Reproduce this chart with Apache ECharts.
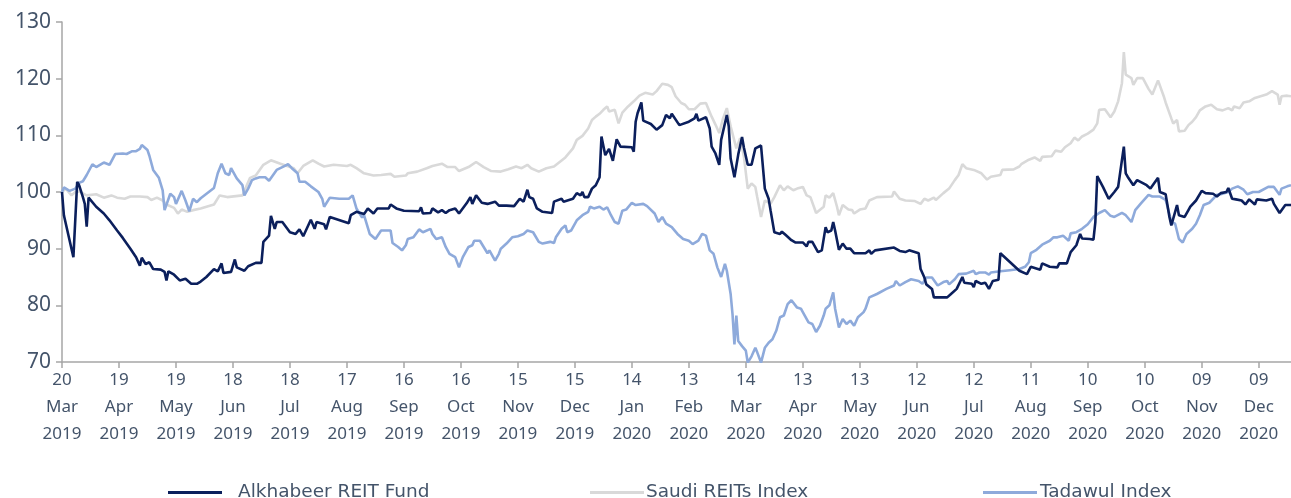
<!DOCTYPE html>
<html>
<head>
<meta charset="utf-8">
<script src="https://cdn.jsdelivr.net/npm/echarts@6/dist/echarts.min.js"></script>
<style>
  html, body { margin: 0; padding: 0; background: #fff; }
  #main { width: 1291px; height: 498px; }
</style>
</head>
<body>
<div id="main"></div>
<script>
// days counted from 20 Mar 2019
var tickLabels = ['20\nMar\n2019', '19\nApr\n2019', '19\nMay\n2019', '18\nJun\n2019', '18\nJul\n2019',
    '17\nAug\n2019', '16\nSep\n2019', '16\nOct\n2019', '15\nNov\n2019', '15\nDec\n2019',
    '14\nJan\n2020', '13\nFeb\n2020', '14\nMar\n2020', '13\nApr\n2020', '13\nMay\n2020',
    '12\nJun\n2020', '12\nJul\n2020', '11\nAug\n2020', '10\nSep\n2020', '10\nOct\n2020',
    '09\nNov\n2020', '09\nDec\n2020'];

var seriesNames = ['Alkhabeer REIT Fund', 'Saudi REITs Index', 'Tadawul Index'];

var fundDays = [0, 1, 6, 8, 9, 11, 12, 13, 14, 18, 22, 25, 29, 32, 36, 39, 41, 42, 44, 46, 48, 52, 54, 55, 56, 59, 62, 65, 68, 71,
    73, 76, 80, 82, 84, 85, 89, 91, 92, 96, 98, 102, 105, 106, 109, 110, 112, 113, 116, 120, 123, 125, 127, 131, 133, 134, 138, 139, 141,
    151, 152, 153, 155, 159, 161, 164, 166, 172, 173, 176, 180, 188, 189, 190, 194, 195, 198, 200, 202, 204, 207, 209, 213, 215, 216, 218,
    221, 224, 228, 230, 234, 238, 241, 243, 245, 246, 248, 250, 253, 258, 259, 263, 264, 269, 271, 273, 274, 275, 277, 279, 281, 283, 284,
    286, 288, 290, 292, 294, 300, 301, 302, 303, 305, 306, 310, 313, 316, 318, 320, 321, 325, 330, 333, 334, 335, 339, 341, 342, 344, 346,
    347, 350, 351, 352, 354, 356, 358, 359, 361, 363, 365, 368, 370, 372, 373, 375, 378, 379, 381, 384, 386, 390, 392, 393, 395, 398, 400,
    402, 403, 405, 406, 407, 409, 411, 413, 415, 416, 417, 423, 425, 426, 428, 438, 441, 444, 446, 451, 452, 454, 455, 458, 459, 466, 468,
    471, 474, 475, 479, 480, 481, 484, 486, 488, 490, 493, 494, 504, 508, 510, 515, 516, 520, 524, 525, 529, 531, 534, 536, 537, 541, 543,
    544, 545, 548, 551, 554, 556, 557, 559, 560, 561, 564, 566, 571, 573, 577, 578, 581, 583, 584, 587, 588, 591, 593, 594, 595, 597, 600,
    602, 606, 608, 610, 613, 614, 616, 618, 621, 623, 625, 628, 629, 634, 637, 638, 641, 644, 647];
var fundValues = [100, 95.9, 88.5, 101.8, 101.2, 99.1, 97.9, 93.9, 99.0, 97.4, 96.2, 95.0, 93.2, 91.9, 90.0, 88.5, 87.0, 88.4, 87.3, 87.6,
    86.4, 86.3, 85.9, 84.4, 86.0, 85.4, 84.4, 84.7, 83.8, 83.8,
    84.2, 85.0, 86.4, 86.0, 87.4, 85.7, 85.9, 88.1, 86.7, 86.1, 86.9, 87.5, 87.5, 91.2, 92.3, 95.8, 93.5, 94.7, 94.7, 92.9, 92.6, 93.4,
    92.2, 95.1, 93.5, 94.7, 94.3, 93.4, 95.6,
    94.5, 95.9, 95.6, 96.5, 96.1, 97.1, 96.2, 97.1, 97.1, 97.8, 97.1, 96.7, 96.6, 97.3, 96.2, 96.3, 97.1, 96.4, 96.8, 96.3, 96.8, 97.1,
    96.2, 98.0, 99.1, 97.9, 99.4,
    98.1, 97.9, 98.3, 97.6, 97.6, 97.5, 98.8, 98.3, 100.4, 99.1, 98.8, 97.1, 96.5, 96.3, 98.3, 98.8, 98.3, 98.8, 99.8, 99.4, 100.0, 99.1,
    99.1, 100.6, 101.2, 102.6, 109.8,
    106.5, 107.6, 105.5, 109.3, 108.0, 107.9, 107.1, 112.4, 113.9, 115.8, 112.6, 112.0, 111.0, 111.8, 113.6, 113.0, 113.8, 111.8, 112.4,
    113.0, 113.8, 112.6, 113.2, 111.2, 108.0, 106.8, 104.8,
    109.2, 113.6, 111.6, 105.9, 102.6, 106.6, 109.7, 107.8, 104.8, 104.8, 107.7, 108.2, 100.6, 98.8, 96.8, 92.9, 92.6, 93.0, 92.4, 91.5,
    91.1, 91.1, 90.4, 91.2, 91.2, 89.4, 89.7,
    93.8, 92.9, 93.2, 94.7, 93.2, 89.8, 90.9, 90.0, 90.0, 90.2, 89.2, 89.2, 89.7, 89.1, 89.7, 90.2, 89.6, 89.4, 89.7, 89.2, 86.4, 84.9,
    83.7, 82.9, 81.4, 81.4, 82.0,
    82.9, 85.0, 84.0, 83.8, 83.2, 84.3, 83.8, 84.0, 82.9, 84.3, 84.5, 89.2, 86.1, 85.5, 86.8, 86.3, 87.4, 86.8, 86.7, 87.4, 87.4, 89.4,
    90.6, 92.6, 91.8, 91.7, 91.6,
    94.7, 102.8, 100.9, 98.8, 100.0, 100.9, 100.6, 108.0, 103.3, 102.7, 101.2, 102.1, 101.2, 100.6, 102.5, 100.0, 99.6, 95.6, 94.1, 97.7,
    95.9, 95.6, 96.8, 97.4, 97.7, 98.5, 100.2,
    99.8, 99.7, 99.2, 99.8, 100.0, 100.7, 98.8, 98.7, 98.5, 97.8, 98.7, 97.8, 98.7, 98.5, 98.8, 97.9, 96.3, 97.7, 97.7];

var reitDays = [0, 2, 5, 7, 9, 13, 18, 22, 26, 29, 33, 36, 41, 45, 47, 50, 53, 55, 59, 61, 63, 66, 69, 73, 80, 83, 87, 95, 99, 102,
    106, 110, 115, 122, 124, 127, 132, 135, 138, 143, 150, 152, 155, 159, 164, 168, 173, 175, 181, 182, 187, 192, 195, 200, 203, 207,
    209, 214, 218, 222, 226, 231, 235, 239, 242, 245, 247, 251, 255, 259, 262, 265, 266, 269, 271, 272, 274, 277, 279, 281, 283, 285,
    287, 288, 291, 293, 295, 298, 301, 304, 307, 311, 313, 316, 319, 321, 323, 326, 328, 330, 333, 336, 339, 342, 344, 346, 348, 350,
    352, 355, 357, 359, 361, 363, 365, 366, 368, 370, 373, 375, 378, 380, 382, 385, 387, 390, 392, 394, 397, 401, 402, 404, 406, 408,
    409, 411, 414, 416, 417, 420, 423, 425, 429, 437, 438, 441, 444, 449, 452, 454, 456, 459, 460, 464, 467, 470, 472, 474, 476, 480,
    484, 487, 489, 494, 495, 501, 504, 505, 509, 512, 515, 516, 521, 523, 526, 528, 531, 533, 535, 537, 540, 543, 545, 546, 549, 552,
    554, 556, 558, 559, 560, 563, 564, 566, 569, 572, 574, 577, 580, 581, 584, 585, 587, 588, 591, 593, 595, 597, 599, 602, 605, 608,
    611, 614, 616, 617, 620, 622, 625, 628, 631, 634, 637, 640, 641, 642, 645, 647];
var reitValues = [100, 100.6, 99.4, 100.0, 100.1, 99.4, 99.6, 99.0, 99.4, 99.0, 98.8, 99.2, 99.2, 99.1, 98.6, 99.0, 98.5, 97.8, 97.2,
    96.2, 96.9, 96.5, 96.8, 97.1, 97.8, 99.4, 99.1, 99.4, 102.5, 102.9,
    104.8, 105.6, 105.0, 104.2, 103.3, 104.6, 105.6, 105.0, 104.5, 104.8, 104.6, 104.8, 104.2, 103.3, 102.9, 103.0, 103.2, 102.7, 102.9,
    103.3, 103.6, 104.2, 104.6, 105.0, 104.4, 104.4,
    103.7, 104.4, 105.3, 104.4, 103.7, 103.6, 104.0, 104.5, 104.2, 104.8, 104.2, 103.6, 104.2, 104.5, 105.3, 106.1, 106.5, 107.7, 109.2,
    109.1, 109.9, 111.2, 112.7, 113.3, 113.8, 114.5,
    115.1, 114.2, 114.5, 112.1, 114.0, 115.1, 116.0, 117.0, 117.5, 117.2, 117.8, 119.1, 118.9, 118.5, 116.9, 115.7, 115.4, 114.6, 114.6,
    115.6, 115.7, 113.3, 111.9, 110.4, 113.0, 114.8,
    111.6, 107.7, 109.5, 106.2, 100.6, 101.5, 100.9, 99.1, 95.6, 98.5, 97.9, 99.1, 101.2, 100.3, 101.0, 100.3, 100.6, 100.9, 99.4, 99.1,
    96.3, 97.4, 99.4, 99.0, 99.8, 97.4,
    95.9, 97.7, 96.9, 96.8, 96.2, 96.9, 97.1, 98.5, 99.1, 99.2, 100.1, 98.8, 98.5, 98.4, 97.9, 98.8, 98.5, 99.0, 98.6, 99.8, 100.6, 102.1,
    103.0, 104.9, 104.2, 103.9,
    103.3, 102.2, 102.7, 103.0, 103.9, 104.0, 104.5, 104.9, 105.7, 106.1, 105.5, 106.2, 106.3, 107.3, 107.1, 107.9, 108.6, 109.6, 109.1,
    109.8, 110.3, 111.0, 112.1, 114.5, 114.6, 113.2,
    114.2, 116.0, 119.2, 124.7, 120.7, 120.1, 118.9, 120.1, 120.1, 118.2, 117.2, 119.7, 116.9, 115.8, 113.0, 112.1, 112.7, 110.7, 110.8,
    111.8, 112.4, 113.2, 114.4, 115.1, 115.4, 114.6,
    114.4, 114.8, 114.4, 115.1, 114.8, 115.8, 116.0, 116.6, 116.9, 117.2, 117.8, 117.2, 115.4, 116.9, 117.0, 116.9];

var tasiDays = [0, 1, 4, 7, 9, 11, 13, 16, 18, 22, 25, 28, 29, 32, 34, 37, 39, 41, 42, 45, 46, 48, 51, 53, 54, 55, 57, 59, 60, 63, 65,
    67, 69, 71, 73, 80, 82, 84, 86, 88, 89, 92, 95, 96, 98, 100, 102, 104, 107, 109, 113, 116, 119, 121, 124, 125, 128, 131, 132, 135,
    137, 138, 141, 146, 151, 153, 155, 158, 159, 162, 165, 166, 168, 173, 174, 177, 179, 181, 182, 185, 188, 190, 194, 195, 197, 200,
    202, 204, 207, 209, 211, 214, 216, 217, 220, 222, 224, 225, 228, 230, 231, 234, 237, 240, 243, 245, 248, 251, 253, 257, 259, 260,
    263, 265, 266, 268, 271, 274, 277, 278, 280, 283, 285, 287, 289, 291, 293, 295, 297, 300, 302, 306, 308, 312, 314, 316, 318, 321,
    324, 327, 330, 332, 335, 337, 339, 341, 343, 345, 347, 349, 350, 352, 353, 354, 355, 356, 358, 360, 361, 363, 365, 366, 368, 370,
    372, 374, 376, 378, 380, 382, 384, 387, 389, 390, 393, 395, 397, 399, 401, 402, 404, 406, 407, 409, 411, 413, 415, 417, 419, 422,
    423, 425, 429, 434, 438, 439, 441, 444, 447, 451, 453, 455, 458, 461, 464, 466, 467, 470, 472, 476, 480, 481, 483, 486, 488, 489,
    494, 499, 504, 507, 509, 510, 513, 516, 517, 520, 522, 524, 527, 530, 531, 534, 537, 540, 543, 546, 549, 552, 554, 558, 560, 563,
    565, 568, 572, 574, 578, 581, 582, 584, 586, 588, 590, 592, 595, 597, 599, 601, 604, 608, 610, 614, 616, 619, 622, 624, 627, 630,
    635, 638, 641, 642, 645, 647];
var tasiValues = [100, 100.8, 100.2, 100.6, 101.6, 101.9, 103.0, 104.9, 104.4, 105.2, 104.8, 106.7, 106.5, 106.8, 106.7, 107.2, 107.2,
    107.6, 108.3, 107.4, 106.4, 103.9, 102.5, 100.3, 96.8, 97.1, 99.7, 99.1, 97.9, 100.2, 98.5,
    96.6, 98.8, 98.2, 98.9, 100.7, 103.3, 105.0, 103.3, 103.0, 104.2, 102.4, 101.2, 99.4, 100.6, 102.1, 102.4, 102.6, 102.6, 102.0, 103.9,
    104.4, 104.9, 104.2, 103.3, 101.8, 101.8, 101.0, 101.0, 100.0,
    98.8, 97.4, 99.0, 98.8, 98.8, 99.4, 97.1, 95.5, 95.9, 92.6, 91.7, 92.0, 93.2, 93.2, 91.0, 90.3, 89.7, 90.6, 91.7, 92.0, 93.4, 92.9,
    93.5, 92.6, 91.7, 92.0,
    90.3, 89.1, 88.5, 86.7, 88.5, 90.3, 90.6, 91.4, 91.4, 90.3, 89.2, 89.7, 87.9, 89.1, 90.0, 90.9, 92.0, 92.2, 92.6, 93.2, 92.9, 91.2,
    90.9, 91.2, 91.0, 92.0,
    93.5, 94.1, 92.9, 93.2, 95.0, 95.9, 96.5, 97.4, 97.1, 97.4, 96.9, 97.3, 95.9, 94.7, 94.4, 96.7, 96.9, 98.1, 97.7, 97.9, 97.5, 96.2,
    94.7, 95.6, 94.4, 93.8,
    92.6, 91.7, 91.4, 90.8, 91.4, 92.6, 92.3, 89.7, 89.1, 86.7, 85.0, 87.3, 86.1, 82.0, 78.4, 73.1, 78.2, 73.7, 72.8, 72.0, 69.9, 71.0,
    72.5, 71.7, 69.9, 72.5,
    73.4, 74.0, 75.5, 77.9, 78.2, 80.2, 80.9, 79.6, 79.4, 78.8, 77.0, 76.7, 75.3, 76.4, 78.2, 79.4, 80.0, 82.3, 79.4, 76.1, 77.6, 76.7,
    77.3, 76.4, 77.9, 78.8,
    79.4, 81.4, 82.0, 82.9, 83.5, 84.3, 83.5, 84.1, 84.6, 84.3, 83.8, 84.9, 84.9, 83.5, 84.1, 84.3, 83.7, 84.6, 85.5, 85.6, 86.1, 85.5,
    85.8, 85.8, 85.4, 85.8,
    86.0, 86.2, 86.4, 86.8, 87.6, 89.2, 89.8, 90.7, 90.9, 91.4, 92.0, 92.0, 92.3, 91.4, 92.7, 92.9, 93.5, 94.3, 95.6, 96.3, 96.8, 95.8,
    95.6, 96.3, 95.9, 94.7,
    96.8, 98.0, 99.5, 99.2, 99.2, 98.6, 97.4, 94.7, 94.4, 91.7, 91.1, 92.6, 93.5, 94.4, 95.9, 97.7, 98.1, 99.5, 99.6, 100.0, 100.6, 101.0,
    100.4, 99.6, 100.0, 100.0,
    100.9, 100.9, 99.5, 100.6, 101.0, 101.2];

function pairs(days, values)
{
    return days.map(function (d, i) { return [d, values[i]]; });
}

var textColor = '#44546a';
var axisColor = '#a6a6a6';
var fontName = '"Noto Sans", "DejaVu Sans", sans-serif';
var legendFont = '"DejaVu Sans", "Noto Sans", sans-serif';
var colors = ['#0b1f5c', '#d9d9d9', '#8eaadb'];

var myChart = echarts.init(document.getElementById('main'));

function makeLegend(idx, left, gapAdjust)
{
    return {
        orient: 'horizontal',
        left: left,
        top: 483,
        padding: 0,
        icon: 'rect',
        itemWidth: 54,
        itemHeight: 3,
        data: [seriesNames[idx]],
        textStyle: { color: textColor, fontSize: 18.5, fontFamily: legendFont, padding: [0, 0, 0, gapAdjust] }
    };
}

option = {
    animation: false,
    grid: { left: 62, right: 0, top: 22, bottom: 136, containLabel: false },
    legend: [
        makeLegend(0, 168, 11),
        makeLegend(1, 590, -3),
        makeLegend(2, 983, -2)
    ],
    xAxis: {
        type: 'value',
        min: 0,
        max: 647,
        interval: 30,
        splitLine: { show: false },
        axisLine: { lineStyle: { color: axisColor, width: 1.5 } },
        axisTick: { show: true, length: 6, lineStyle: { color: axisColor, width: 1.5 } },
        axisLabel: {
            color: textColor,
            fontSize: 17,
            fontFamily: fontName,
            lineHeight: 27,
            margin: 5,
            showMaxLabel: false,
            formatter: function (v) {
                var i = Math.round(v / 30);
                return (v % 30 === 0 && i < tickLabels.length) ? tickLabels[i] : '';
            }
        }
    },
    yAxis: {
        type: 'value',
        min: 70,
        max: 130,
        interval: 10,
        splitLine: { show: false },
        axisLine: { show: true, lineStyle: { color: axisColor, width: 1.5 } },
        axisTick: { show: true, length: 6, lineStyle: { color: axisColor, width: 1.5 } },
        axisLabel: { color: textColor, fontSize: 21, fontFamily: fontName, margin: 11 }
    },
    series: [
        {
            name: seriesNames[1],
            type: 'line',
            symbol: 'none',
            z: 1,
            lineStyle: { color: colors[1], width: 2.6 },
            itemStyle: { color: colors[1] },
            data: pairs(reitDays, reitValues)
        },
        {
            name: seriesNames[2],
            type: 'line',
            symbol: 'none',
            z: 2,
            lineStyle: { color: colors[2], width: 2.6 },
            itemStyle: { color: colors[2] },
            data: pairs(tasiDays, tasiValues)
        },
        {
            name: seriesNames[0],
            type: 'line',
            symbol: 'none',
            z: 3,
            lineStyle: { color: colors[0], width: 2.6 },
            itemStyle: { color: colors[0] },
            data: pairs(fundDays, fundValues)
        }
    ]
};

myChart.setOption(option);
</script>
</body>
</html>
